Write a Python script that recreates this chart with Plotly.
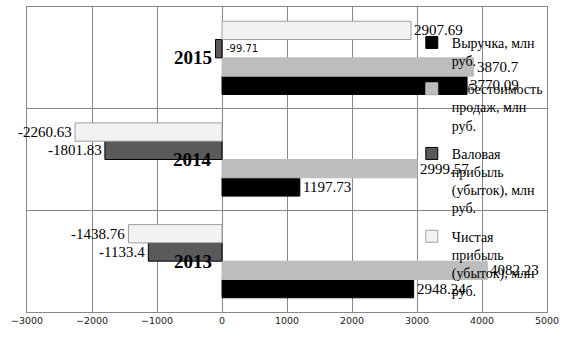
import plotly.graph_objects as go

years = ["2013", "2014", "2015"]
revenue = [2948.24, 1197.73, 3770.09]
cost = [4082.23, 2999.57, 3870.7]
gross = [-1133.4, -1801.83, -99.71]
net = [-1438.76, -2260.63, 2907.69]

names = ["Выручка, млн<br>руб.",
         "Себестоимость<br>продаж, млн<br>руб.",
         "Валовая<br>прибыль<br>(убыток), млн<br>руб.",
         "Чистая<br>прибыль<br>(убыток), млн<br>руб."]
series = [revenue, cost, gross, net]
fills = ["#000000", "#bdbdbd", "#5a5a5a", "#f2f2f2"]
lines = ["#000000", "#bdbdbd", "#000000", "#a0a0a0"]

fig = go.Figure()
for i, (nm, vals) in enumerate(zip(names, series)):
    fig.add_trace(go.Bar(
        y=years, x=vals, orientation="h", name=nm,
        marker=dict(color=fills[i], line=dict(color=lines[i], width=1)),
        legendgroup=str(i),
    ))

bargap = 0.28
n = len(series)
w = (1 - bargap) / n
serif = "Liberation Serif, Times New Roman, serif"
ann = []
for i, vals in enumerate(series):
    for j, v in enumerate(vals):
        yc = j - (1 - bargap) / 2 + (i + 0.5) * w
        if abs(v) < 200:
            ann.append(dict(x=0, y=yc, text=str(v), showarrow=False, xanchor="left",
                            xshift=2, font=dict(family="DejaVu Sans", size=10, color="#111")))
        elif v >= 0:
            ann.append(dict(x=v, y=yc, text=str(v), showarrow=False, xanchor="left",
                            xshift=1, font=dict(family=serif, size=15, color="#000")))
        else:
            ann.append(dict(x=v, y=yc, text=str(v), showarrow=False, xanchor="right",
                            xshift=-1, font=dict(family=serif, size=15, color="#000")))
for j, yr in enumerate(years):
    ann.append(dict(x=0, y=j, text="<b>" + yr + "</b>", showarrow=False, xanchor="right",
                    xshift=-8, font=dict(family=serif, size=19, color="#000")))

fig.update_layout(
    width=571, height=341,
    margin=dict(l=27, r=24, t=7, b=29),
    paper_bgcolor="white", plot_bgcolor="white",
    barmode="group", bargap=bargap, bargroupgap=0,
    annotations=ann,
    showlegend=True,
    legend=dict(x=0.74, y=0.935, xanchor="left", yanchor="top", valign="top",
                bgcolor="rgba(0,0,0,0)", traceorder="grouped", tracegroupgap=7,
                font=dict(family=serif, size=14, color="#000"), itemwidth=30),
    xaxis=dict(range=[-3000, 5000], dtick=1000, showgrid=True, gridcolor="#888888",
               zeroline=False, showline=True, mirror=True, linecolor="#888888",
               ticks="", tickfont=dict(family="DejaVu Sans", size=9.5, color="#222")),
    yaxis=dict(type="category", categoryorder="array", categoryarray=years,
               showticklabels=False, showgrid=True, tickson="boundaries",
               gridcolor="#888888", showline=True, mirror=True, linecolor="#888888",
               ticks="", range=[-0.5, 2.5]),
)
fig.write_html("out.html")
